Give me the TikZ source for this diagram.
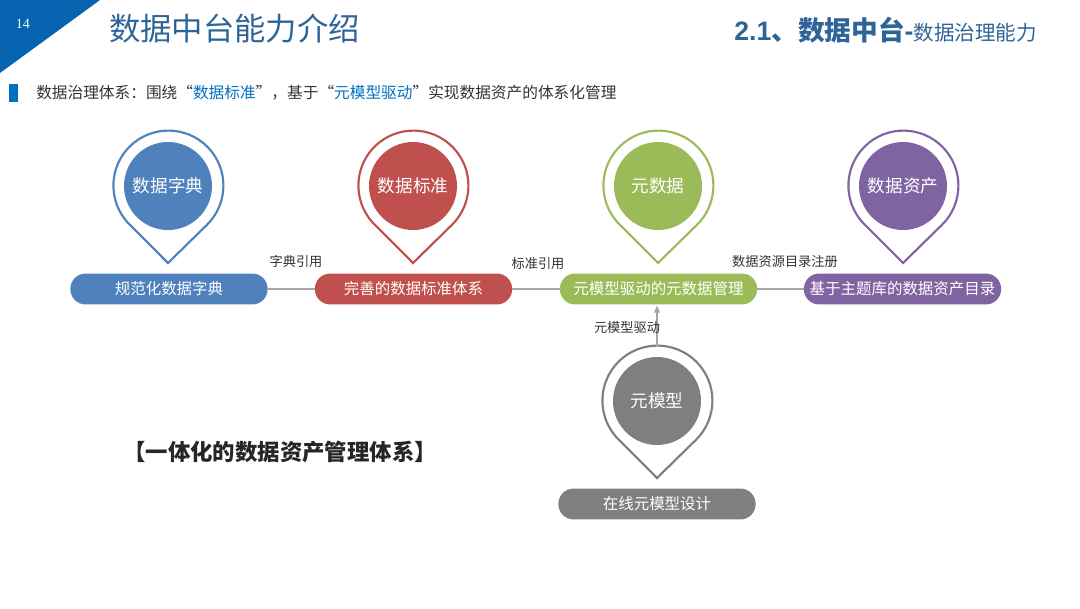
\documentclass[tikz,border=0pt]{standalone}
\usepackage{fontspec}
\setmainfont{Noto Sans CJK SC}
\newfontfamily\numfont{Liberation Serif}
\newfontfamily\headfont{Liberation Sans}
\usepackage{tikz}
\usetikzlibrary{arrows.meta}
\definecolor{cblue}{HTML}{4F81BD}
\definecolor{cred}{HTML}{C0504D}
\definecolor{cgreen}{HTML}{9BBB59}
\definecolor{cpurple}{HTML}{8064A2}
\definecolor{cgrey}{HTML}{7F7F7F}
\definecolor{cline}{HTML}{A6A6A6}
\definecolor{ctitle}{HTML}{2F6499}
\definecolor{cmark}{HTML}{0563B0}
\definecolor{ctext}{HTML}{0070C0}
\tikzset{
  pinout/.style={circle,minimum size=82.5pt,inner sep=0pt,outer sep=0pt},
  pinin/.style={circle,minimum size=66pt,inner sep=0pt,text=white,font=\fontsize{13.2}{14}\selectfont},
  bar/.style={rounded corners=11.5pt,minimum width=148pt,minimum height=23.2pt,inner sep=0pt,text=white,font=\fontsize{11.6}{12}\selectfont},
  lbl/.style={inner sep=0pt,text=black!80,font=\fontsize{9.9}{10}\selectfont},
  link/.style={draw=cline,line width=1.4pt}
}
\begin{document}
\begin{tikzpicture}[x=0.75pt,y=0.75pt]
\useasboundingbox (0,0) rectangle (1080,608);
\fill[cmark] (0,608)--(100,608)--(0,535)--cycle;
\fill[ctext] (9,524)--(18,524)--(18,506)--(9,506)--cycle;
\node[inner sep=0pt,text=white,font=\numfont\fontsize{10.5}{11}\selectfont] (pageno) at (23,584) {14};
\node[inner sep=0pt,anchor=west,text=ctitle,font=\fontsize{23.5}{24}\selectfont] (title) at (109,579) {数据中台能力介绍};
\node[inner sep=0pt,anchor=east,text=ctitle] (subtitle) at (1037,578) {{\headfont\bfseries\fontsize{20}{20}\selectfont 2.1}{\bfseries\fontsize{20}{20}\selectfont 、数据中台}{\headfont\bfseries\fontsize{20}{20}\selectfont -}{\fontsize{15.4}{16}\selectfont 数据治理能力}};
\node[inner sep=0pt,anchor=west,text=black!80,font=\fontsize{11.76}{12}\selectfont] (intro) at (36,515) {数据治理体系：围绕“\textcolor{ctext}{数据标准}”，基于“\textcolor{ctext}{元模型驱动}”实现数据资产的体系化管理};
\foreach \i/\x/\bx/\y/\c/\t/\b in {1/168/169/422/cblue/数据字典/规范化数据字典,2/413/413.5/422/cred/数据标准/完善的数据标准体系,3/658/658.5/422/cgreen/元数据/元模型驱动的元数据管理,4/903/902.5/422/cpurple/数据资产/基于主题库的数据资产目录,5/657/657/207/cgrey/元模型/在线元模型设计}{
  \node[pinout] (po\i) at (\x,\y) {};
  \coordinate (tip\i) at (\x,\y-77);
  \draw[\c,line width=1.6pt,line join=miter] (tip\i)--(po\i.-45.6) arc[start angle=-45.6,end angle=225.6,radius=55]--cycle;
  \node[pinin,fill=\c] (pi\i) at (\x,\y) {\t};
  \node[bar,fill=\c] (b\i) at (\bx,\y-103) {\b};
}
\draw[link] (b1)--(b2);
\draw[link] (b2)--(b3);
\draw[link] (b3)--(b4);
\draw[draw=cline,line width=1.2pt,-{Latex[length=6pt,width=5pt]}] (po5.north)--(po5.north|-b3.south);
\node[lbl] (l1) at (296,347) {字典引用};
\node[lbl] (l2) at (538,344) {标准引用};
\node[lbl] (l3) at (785,347) {数据资源目录注册};
\node[lbl] (l4) at (627,281) {元模型驱动};
\node[inner sep=0pt,text=black!85,font=\bfseries\fontsize{16.8}{18}\selectfont] (sum) at (280,156) {【一体化的数据资产管理体系】};
\end{tikzpicture}
\end{document}
